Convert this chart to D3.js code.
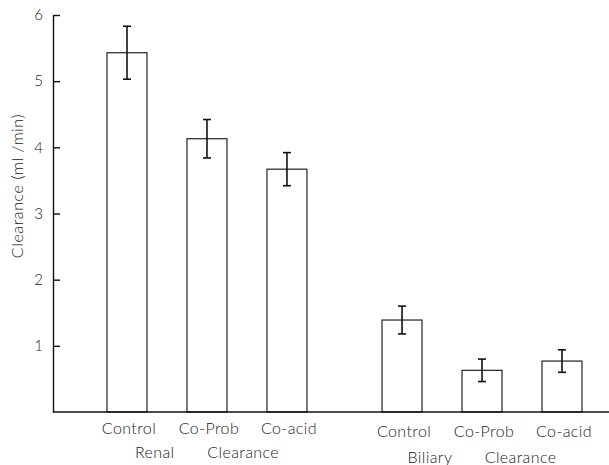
<!DOCTYPE html>
<html>
<head>
<meta charset="utf-8">
<script src="https://cdn.jsdelivr.net/npm/d3@7"></script>
<style>
  body { margin: 0; background: #fff; }
  svg text { font-family: Lato, "DejaVu Sans", sans-serif; font-weight: 300; fill: #222; }
</style>
</head>
<body>
<div id="chart"></div>
<script>
// data
const groups = ['Renal', 'Biliary'];
const treatments = ['Control', 'Co-Prob', 'Co-acid'];
const renalMean = [5.43, 4.13, 3.67];
const renalErr = [0.40, 0.29, 0.25];
const biliaryMean = [1.39, 0.63, 0.77];
const biliaryErr = [0.21, 0.17, 0.17];
const yTicks = [1, 2, 3, 4, 5, 6];

const W = 609, H = 465;
const margin = {top: 15, right: 0, bottom: 53, left: 53};

const svg = d3.select('#chart').append('svg')
    .attr('width', W)
    .attr('height', H);

const y = d3.scaleLinear()
    .domain([0, 6])
    .range([H - margin.bottom, margin.top]);

// outer scale for the two groups, inner for the three treatments
const x0 = d3.scaleBand()
    .domain(groups)
    .range([margin.left + 54, W - 27])
    .paddingInner(0.273);

const x1 = d3.scaleBand()
    .domain(treatments)
    .range([0, x0.bandwidth()])
    .paddingInner(0.5);

const rows = [];
groups.forEach((g, gi) => {
    const means = gi === 0 ? renalMean : biliaryMean;
    const errs = gi === 0 ? renalErr : biliaryErr;
    treatments.forEach((t, i) => {
        rows.push({group: g, name: t, value: means[i], err: errs[i]});
    });
});

const bx = d => x0(d.group) + x1(d.name);
const cx = d => bx(d) + x1.bandwidth() / 2;

// bars
svg.selectAll('.bar')
    .data(rows)
    .enter()
    .append('rect')
    .attr('class', 'bar')
    .attr('x', bx)
    .attr('y', d => y(d.value))
    .attr('width', x1.bandwidth())
    .attr('height', d => y(0) - y(d.value))
    .attr('fill', '#fff')
    .attr('stroke', '#222')
    .attr('stroke-width', 1.2);

// error bars
const eb = svg.selectAll('.err')
    .data(rows)
    .enter()
    .append('g')
    .attr('class', 'err')
    .attr('stroke', '#111')
    .attr('stroke-width', 1.6);

eb.append('line')
    .attr('x1', cx).attr('x2', cx)
    .attr('y1', d => y(d.value + d.err))
    .attr('y2', d => y(d.value - d.err));

eb.append('line')
    .attr('x1', d => cx(d) - 4).attr('x2', d => cx(d) + 4)
    .attr('y1', d => y(d.value + d.err))
    .attr('y2', d => y(d.value + d.err));

eb.append('line')
    .attr('x1', d => cx(d) - 4).attr('x2', d => cx(d) + 4)
    .attr('y1', d => y(d.value - d.err))
    .attr('y2', d => y(d.value - d.err));

// y axis, ticks pointing inward
const yAxis = d3.axisLeft(y)
    .tickValues(yTicks)
    .tickFormat(d3.format('d'))
    .tickSizeInner(-7)
    .tickSizeOuter(0)
    .tickPadding(10);

const ga = svg.append('g')
    .attr('transform', `translate(${margin.left},0)`)
    .call(yAxis);

ga.select('.domain').attr('stroke', '#111').attr('stroke-width', 1.4);
ga.selectAll('.tick line').attr('stroke', '#111').attr('stroke-width', 1.4);
ga.selectAll('.tick text')
    .style('font-size', '15px')
    .attr('fill', '#222');

// baseline
svg.append('line')
    .attr('x1', margin.left)
    .attr('x2', W)
    .attr('y1', y(0))
    .attr('y2', y(0))
    .attr('stroke', '#111')
    .attr('stroke-width', 1.4);

// y title
svg.append('text')
    .attr('transform', `translate(23,186) rotate(-90)`)
    .attr('text-anchor', 'middle')
    .style('font-size', '16px')
    .style('letter-spacing', '0.6px')
    .text('Clearance  (ml /min)');

// treatment labels
svg.selectAll('.tlabel')
    .data(rows)
    .enter()
    .append('text')
    .attr('class', 'tlabel')
    .attr('x', d => cx(d) + 2)
    .attr('y', d => d.group === 'Renal' ? 434 : 437)
    .attr('text-anchor', 'middle')
    .style('font-size', '16px')
    .style('letter-spacing', '0.4px')
    .text(d => d.name);

// group labels under the middle bar
svg.selectAll('.glabel')
    .data(groups)
    .enter()
    .append('text')
    .attr('class', 'glabel')
    .attr('x', g => x0(g) + x1('Co-Prob') + x1.bandwidth() / 2)
    .attr('y', (g, i) => i === 0 ? 458 : 463)
    .attr('text-anchor', 'middle')
    .style('font-size', '16px')
    .style('letter-spacing', '0.4px')
    .style('word-spacing', '28px')
    .text(g => g + ' Clearance');
</script>
</body>
</html>
